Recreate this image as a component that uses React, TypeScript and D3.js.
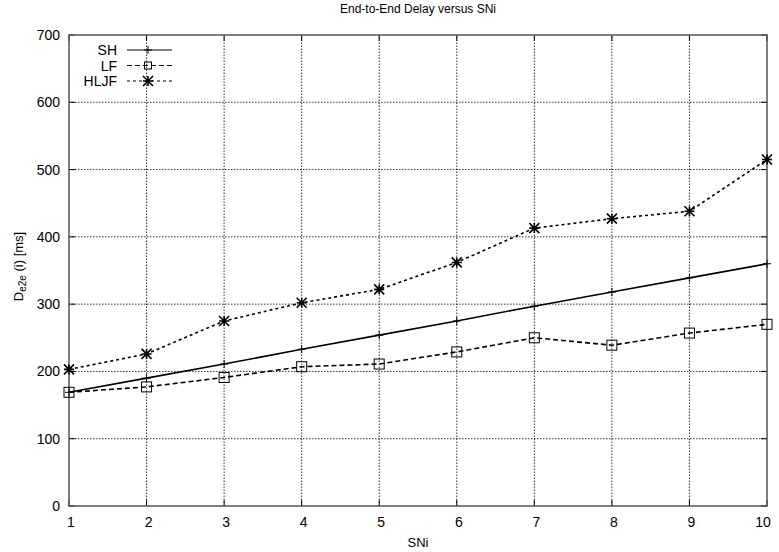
import React from 'react';
import * as d3 from 'd3';

const sni = [1, 2, 3, 4, 5, 6, 7, 8, 9, 10];
const shValues = [169, 190, 211, 233, 254, 275, 297, 318, 339, 360];
const lfValues = [169, 177, 191, 207, 211, 229, 250, 239, 257, 270];
const hljfValues = [203, 226, 275, 302, 322, 362, 413, 427, 438, 515];
const yTicks = [0, 100, 200, 300, 400, 500, 600, 700];

const W = 779;
const H = 552;
const margin = { top: 35, right: 12, bottom: 46, left: 69 };
const FONT = '"Liberation Sans", Arial, sans-serif';

const App = () => {
  const x = d3.scaleLinear().domain([1, 10]).range([margin.left, W - margin.right]);
  const y = d3.scaleLinear().domain([0, 700]).range([H - margin.bottom, margin.top]);
  const line = d3
    .line<number>()
    .x((_, i) => x(sni[i]))
    .y((d) => y(d));

  const x0 = x.range()[0];
  const x1 = x.range()[1];
  const y0 = y.range()[0];
  const y1 = y.range()[1];

  // gnuplot-ish markers
  const plus = (cx: number, cy: number, key: string) => (
    <path key={key} d={`M${cx - 4},${cy}H${cx + 4}M${cx},${cy - 4}V${cy + 4}`} stroke="#000" strokeWidth={1} />
  );
  const square = (cx: number, cy: number, key: string, r = 5) => (
    <rect key={key} x={cx - r} y={cy - r} width={2 * r} height={2 * r} fill="none" stroke="#000" strokeWidth={1} />
  );
  const star = (cx: number, cy: number, key: string) => (
    <path
      key={key}
      d={`M${cx - 5},${cy - 5}L${cx + 5},${cy + 5}M${cx - 5},${cy + 5}L${cx + 5},${cy - 5}M${cx - 5},${cy}H${cx + 5}M${cx},${cy - 5}V${cy + 5}`}
      stroke="#000"
      strokeWidth={1.6}
    />
  );

  const series = [
    { name: 'SH', values: shValues, dash: undefined, marker: plus },
    { name: 'LF', values: lfValues, dash: '5,3', marker: square },
    { name: 'HLJF', values: hljfValues, dash: '3,3', marker: star },
  ];

  return (
    <svg width={W} height={H} style={{ position: 'absolute', left: 0, top: 0 }} fontFamily={FONT}>
      <rect width={W} height={H} fill="#fff" />
      <text x={(x0 + x1) / 2} y={13} textAnchor="middle" fontSize={12} fill="#000">
        End-to-End Delay versus SNi
      </text>

      {/* grid */}
      {yTicks.slice(1, -1).map((t) => (
        <line key={'gy' + t} x1={x0} x2={x1} y1={y(t)} y2={y(t)} stroke="#000" strokeWidth={0.8} strokeDasharray="1.5,1.5" />
      ))}
      {sni.slice(1, -1).map((t) => (
        <line key={'gx' + t} x1={x(t)} x2={x(t)} y1={y0} y2={y1} stroke="#000" strokeWidth={0.8} strokeDasharray="1.5,1.5" />
      ))}

      {/* ticks */}
      {yTicks.map((t) => (
        <g key={'ty' + t}>
          <line x1={x0} x2={x0 + 6} y1={y(t)} y2={y(t)} stroke="#000" />
          <line x1={x1} x2={x1 - 6} y1={y(t)} y2={y(t)} stroke="#000" />
          <text x={x0 - 9} y={y(t) + 5} textAnchor="end" fontSize={14} fill="#000">
            {t}
          </text>
        </g>
      ))}
      {sni.map((t) => (
        <g key={'tx' + t}>
          <line x1={x(t)} x2={x(t)} y1={y0} y2={y0 - 6} stroke="#000" />
          <line x1={x(t)} x2={x(t)} y1={y1} y2={y1 + 6} stroke="#000" />
          <text x={t === 10 ? x(t) - 4 : x(t) + 2} y={y0 + 21} textAnchor="middle" fontSize={14} fill="#000">
            {t}
          </text>
        </g>
      ))}

      {/* frame */}
      <rect x={x0} y={y1} width={x1 - x0} height={y0 - y1} fill="none" stroke="#555" strokeWidth={1.5} />

      {/* series */}
      {series.map((s) => (
        <g key={s.name}>
          <path d={line(s.values) || ''} fill="none" stroke="#000" strokeWidth={1.6} strokeDasharray={s.dash} />
          {s.values.map((v, i) => s.marker(x(sni[i]), y(v), s.name + i))}
        </g>
      ))}

      {/* legend */}
      {series.map((s, i) => {
        const ly = 50 + i * 15.5;
        return (
          <g key={'lg' + s.name}>
            <text x={117} y={ly + 5} textAnchor="end" fontSize={14} fill="#000">
              {s.name}
            </text>
            <line x1={127} x2={172} y1={ly} y2={ly} stroke="#000" strokeWidth={s.name === 'SH' ? 1 : 1.2} strokeDasharray={s.dash} />
            {s.name === 'LF' ? square(148, ly, 'lm' + s.name, 3.5) : s.marker(148, ly, 'lm' + s.name)}
          </g>
        );
      })}

      {/* axis labels */}
      <text x={(x0 + x1) / 2} y={547} textAnchor="middle" fontSize={13} fill="#000">
        SNi
      </text>
      <text transform={`translate(23, ${(y0 + y1) / 2 - 4}) rotate(-90)`} textAnchor="middle" fontSize={13} fill="#000">
        D<tspan fontSize={10} dy={3}>e2e</tspan>
        <tspan dy={-3}> (i) [ms]</tspan>
      </text>
    </svg>
  );
};

export default App;
